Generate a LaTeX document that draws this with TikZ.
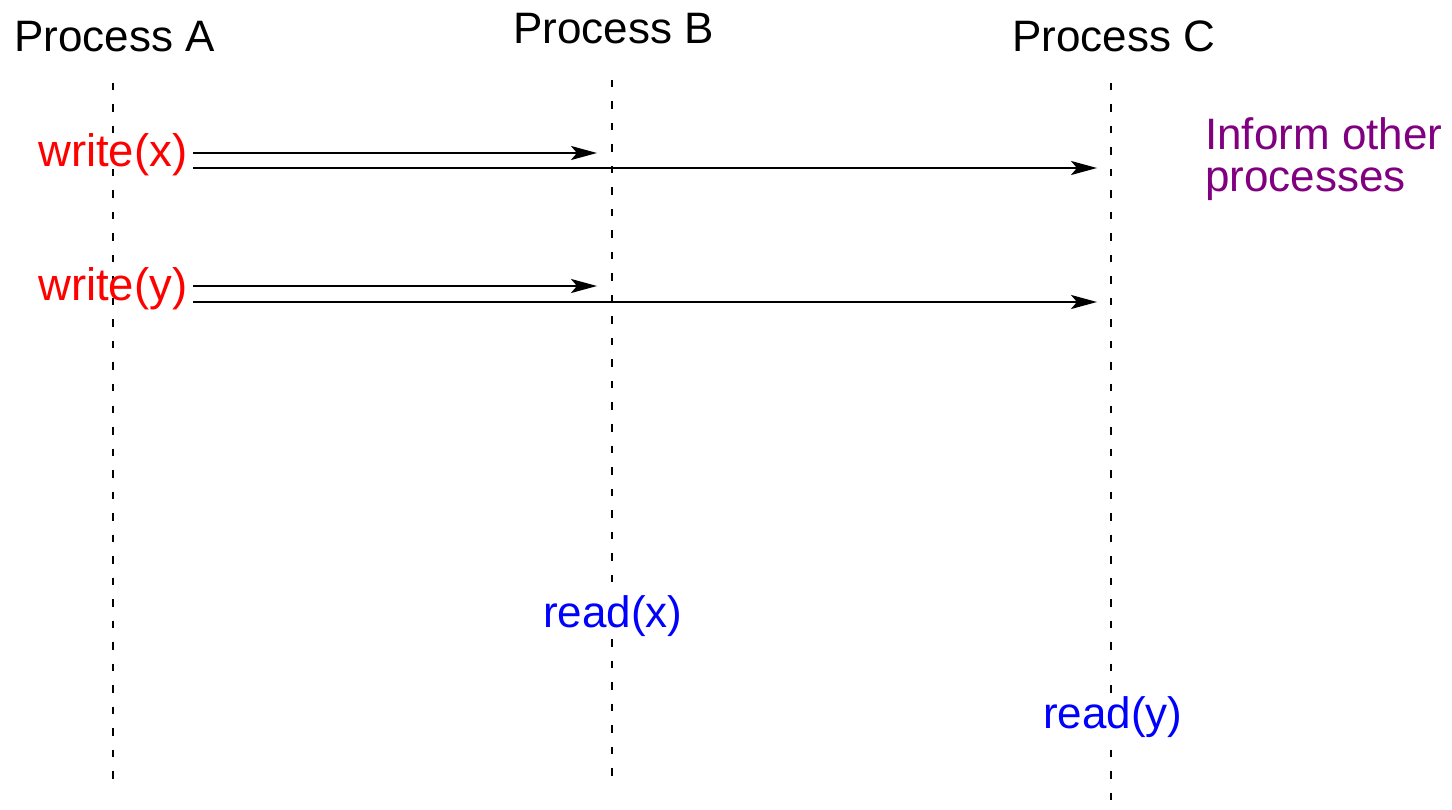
\documentclass[tikz,border=0pt]{standalone}
\usepackage{fontspec}
\setmainfont{Liberation Sans}
\usetikzlibrary{arrows.meta}
\definecolor{informpurple}{RGB}{128,0,128}
\definecolor{readblue}{RGB}{0,0,255}
\definecolor{writered}{RGB}{255,0,0}
\begin{document}
\begin{tikzpicture}[x=1pt,y=-1pt,
  lbl/.style={inner sep=0pt,anchor=base west,font=\fontsize{44}{52}\selectfont},
  wlbl/.style={lbl,font=\fontsize{45.5}{52}\selectfont},
  lifeline/.style={draw=black,line width=2.4pt,dash pattern=on 7.5pt off 14pt},
  msg/.style={draw=black,line width=2.6pt,-{Stealth[length=26pt,width=14pt,inset=6pt]}}]
\useasboundingbox (0,0) rectangle (1452,810);
% headers
\node[lbl] (pa) at (14,52) {Process A};
\node[lbl] (pb) at (513,44) {Process B};
\node[lbl] (pc) at (1012,52) {Process C};
% lifelines
\coordinate (aTop) at (113,83);
\coordinate (aBot) at (113,788);
\coordinate (bTop) at (612,80);
\coordinate (bBot) at (612,788);
\coordinate (cTop) at (1111,83);
\coordinate (cBot) at (1111,810);
\draw[lifeline] (aTop) -- (aBot);
\draw[lifeline] (bTop) -- (bBot);
\draw[lifeline] (cTop) -- (cBot);
% labels
\node[wlbl,text=writered] (wx) at (38,167) {write(x)};
\node[wlbl,text=writered] (wy) at (38,301) {write(y)};
\node[lbl,text=informpurple] (inf1) at (1205,150) {Inform other};
\node[lbl,text=informpurple] (inf2) at (1205,192) {processes};
\node[lbl,text=readblue,fill=white,inner sep=1pt] (rx) at (542,627) {read(x)};
\node[lbl,text=readblue,fill=white,inner sep=1pt] (ry) at (1042,728) {read(y)};
% message coordinates
\coordinate (wx1s) at (193,153);
\coordinate (wx1e) at (597,153);
\coordinate (wx2s) at (193,168);
\coordinate (wx2e) at (1097,168);
\coordinate (wy1s) at (193,286);
\coordinate (wy1e) at (597,286);
\coordinate (wy2s) at (193,302);
\coordinate (wy2e) at (1097,302);
\draw[msg] (wx1s) -- (wx1e);
\draw[msg] (wx2s) -- (wx2e);
\draw[msg] (wy1s) -- (wy1e);
\draw[msg] (wy2s) -- (wy2e);
\end{tikzpicture}
\end{document}
